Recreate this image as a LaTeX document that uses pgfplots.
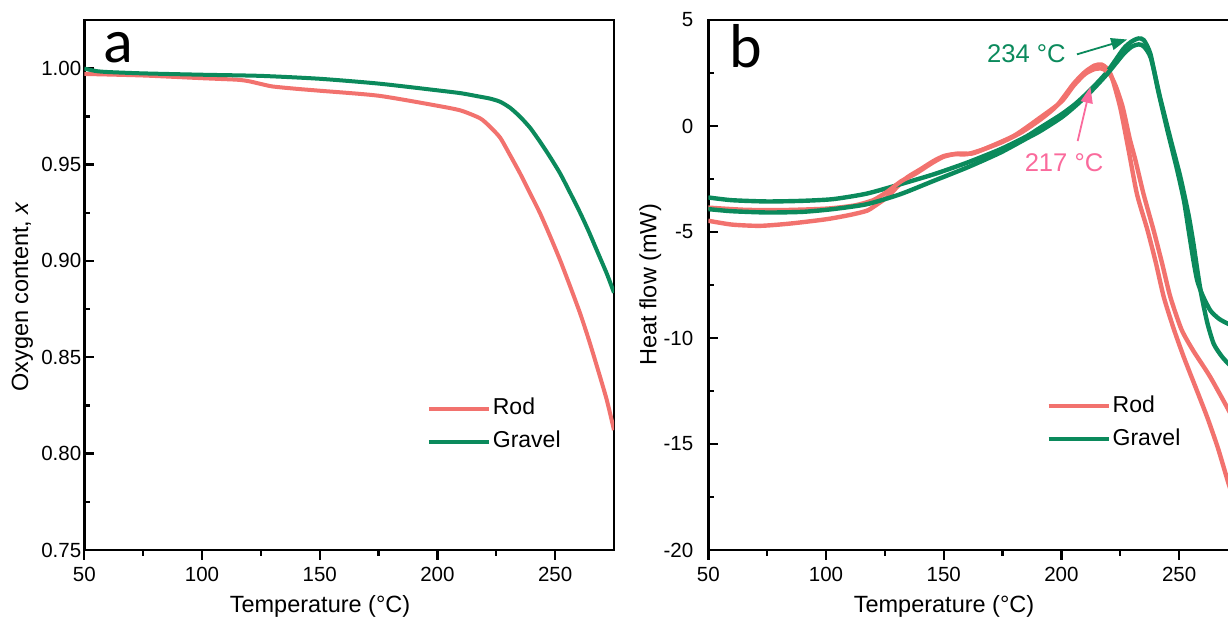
\documentclass[border=0pt]{standalone}
\usepackage{pgfplots}
\pgfplotsset{compat=1.18}
\usepackage{fontspec}
\setmainfont{Liberation Sans}
\newfontfamily\carlito{Carlito}
\usetikzlibrary{arrows.meta}
\definecolor{rodred}{HTML}{F2726E}
\definecolor{gravgreen}{HTML}{0B8A5C}
\definecolor{pinkann}{HTML}{FA6A9C}
\pgfplotsset{
  myaxis/.style={
    scale only axis, width=264.85pt, height=265pt, anchor=south west,
    xmin=50, xmax=275, xtick={50,100,150,200,250}, minor x tick num=1,
    axis line style={line width=1.4pt},
    every tick/.style={line width=1.2pt, black},
    every minor tick/.style={line width=1.2pt, black},
    major tick length=5pt, minor tick length=3pt,
    xtick pos=bottom, ytick pos=left,
    xtick align=outside, ytick align=inside,
    tick label style={font=\fontsize{10.25}{12}\selectfont},
    label style={font=\fontsize{11.75}{14}\selectfont},
    /pgf/number format/assume math mode=true,
    xlabel={Temperature (°C)},
    xlabel style={at={(axis description cs:0.445,0)}, anchor=center, yshift=-28pt},
    legend cell align=left,
    legend image code/.code={\draw[##1, line width=2pt] (0pt,0pt) -- (30pt,0pt);},
    legend style={draw=none, fill=none, inner sep=0pt, row sep=3.5pt,
      font=\fontsize{11.5}{13}\selectfont,
      nodes={inner sep=1pt, text height=8.5pt, text depth=2.5pt}},
  }
}
\begin{document}
\begin{tikzpicture}
\path[use as bounding box] (0,0) rectangle (614pt,310.5pt);
\clip (0,0) rectangle (614pt,310.5pt);
% ---------------- panel a ----------------
\begin{axis}[myaxis, at={(42.15pt,35.5pt)},
  ymin=0.75, ymax=1.025, ytick={0.75,0.80,...,1.001}, minor y tick num=1,
  yticklabel style={xshift=2pt, /pgf/number format/.cd, fixed, fixed zerofill, precision=2},
  ylabel={Oxygen content, \textit{x}},
  ylabel style={at={(axis description cs:0,0.478)}, anchor=center, yshift=31pt},
  legend style={at={(axis description cs:0.646,0.235)}, anchor=west},
]
\addplot[rodred, line width=2pt, smooth, tension=0.4] coordinates {
(50,0.997) (75,0.9962) (100,0.9948) (115,0.9940) (120,0.9932) (125,0.9918)
(130,0.9905) (140,0.9893) (150,0.9883) (175,0.9857) (200,0.9805) (210,0.9780)
(218.1,0.9740) (222,0.9700) (226.6,0.9640) (230.8,0.9550) (235.1,0.9454)
(239.4,0.9350) (243.6,0.9247) (247.8,0.9130) (252.1,0.9004) (256.3,0.8870)
(260.6,0.8728) (264.2,0.8595) (267.7,0.8455) (271.9,0.8280) (275,0.8122)};
\addlegendentry{Rod}
\addplot[gravgreen, line width=2pt, smooth, tension=0.4] coordinates {
(50,0.9998) (55,0.9985) (60,0.9980) (75,0.9973) (100,0.9966) (125,0.9960)
(150,0.9945) (175,0.9920) (200,0.9885) (210,0.9870) (218.1,0.9852)
(222.4,0.9842) (226.6,0.9826) (230.8,0.9795) (235.1,0.9748) (239.4,0.9690)
(243.6,0.9618) (247.8,0.9540) (252.1,0.9454) (256.3,0.9355) (260.6,0.9250)
(264.2,0.9155) (267.7,0.9055) (271.9,0.8935) (275,0.8835)};
\addlegendentry{Gravel}
\node[anchor=base west, inner sep=0pt, font=\carlito\fontsize{31}{31}\selectfont]
  at (axis description cs:0.036,0.919) {a};
\end{axis}
% ---------------- panel b ----------------
\begin{axis}[myaxis, at={(354.15pt,35.5pt)},
  ymin=-20, ymax=5, ytick={-20,-15,...,5}, minor y tick num=1,
  ylabel={Heat flow (mW)},
  ylabel style={at={(axis description cs:0,0.50)}, anchor=center, yshift=29pt},
  yticklabel style={xshift=-4pt},
  legend style={at={(axis description cs:0.638,0.240)}, anchor=west},
]
% Rod, run 1
\addplot[rodred, line width=2.2pt, smooth, tension=0.4] coordinates {
(50,-4.47) (60,-4.65) (72,-4.71) (85,-4.60) (100,-4.40) (110,-4.20) (117.3,-4.00)
(121,-3.75) (125.8,-3.37) (130,-2.90) (134.4,-2.43) (140,-2.05) (145.7,-1.65)
(150,-1.42) (154.2,-1.33) (159.9,-1.33) (166.9,-1.10) (175,-0.75) (183,-0.30)
(191,0.30) (198,0.95) (205.2,2.00) (210,2.55) (214,2.85) (217,2.90) (219.5,2.70)
(221.5,2.27) (225,0.86) (228.6,-1.18) (232.1,-3.22) (236.4,-4.85) (240,-6.40)
(243.5,-8.08) (247.8,-9.60) (252,-10.91) (256.9,-12.30) (261.9,-13.73) (266.5,-15.20)
(271,-16.87) (275,-18.20)};
\addlegendentry{Rod}
% Gravel, run 1
\addplot[gravgreen, line width=2.2pt, smooth, tension=0.4] coordinates {
(50,-3.37) (60,-3.50) (75,-3.56) (90,-3.53) (103,-3.45) (117.3,-3.19) (131.5,-2.75)
(145.7,-2.28) (159.9,-1.73) (174,-1.10) (185,-0.50) (191,-0.08) (200,0.55)
(206,1.05) (212.3,1.70) (219.4,2.55) (226.4,3.65) (230,4.00) (232.8,4.13)
(235,4.05) (237.8,3.40) (241,1.70) (245,-0.20) (249,-2.00) (252,-3.50)
(254,-4.90) (256,-6.30) (257.7,-7.30) (260,-8.00) (263.3,-8.71) (267,-9.10)
(271,-9.34) (275,-9.50)};
\addlegendentry{Gravel}
% Rod, run 2
\addplot[rodred, line width=2.2pt, smooth, tension=0.4, forget plot] coordinates {
(50,-3.85) (65,-3.95) (80,-3.97) (100,-3.90) (112,-3.75) (120,-3.50) (126,-3.10)
(132,-2.60) (138,-2.25) (145,-1.75) (150,-1.45) (156,-1.30) (162,-1.30)
(168,-1.05) (180,-0.45) (191,0.40) (200,1.15) (205.2,1.90) (210,2.45) (214,2.68)
(217.5,2.70) (220.5,2.45) (223,1.90) (226,0.90) (229,-0.60) (231.4,-1.60)
(234.9,-3.22) (239.2,-4.94) (242.8,-6.50) (246.3,-8.08) (251,-9.60) (256,-10.60)
(263,-11.80) (271,-13.40) (275,-14.30)};
% Gravel, run 2
\addplot[gravgreen, line width=2.2pt, smooth, tension=0.4, forget plot] coordinates {
(50,-3.92) (60,-4.02) (75,-4.08) (90,-4.05) (103,-3.92) (117.3,-3.69) (131.5,-3.22)
(145.7,-2.59) (159.9,-1.96) (174,-1.26) (185,-0.60) (191,-0.24) (200,0.40)
(206,0.95) (212.3,1.60) (219.4,2.45) (226.4,3.40) (230,3.75) (232.8,3.85)
(235,3.75) (238,3.20) (242,1.30) (246.3,-0.60) (250.5,-2.40) (254,-4.20)
(256,-5.50) (258,-7.00) (259.5,-8.00) (262,-9.30) (264.7,-10.28) (268,-10.85)
(271,-11.22) (275,-11.60)};
\node[anchor=base west, inner sep=0pt, font=\carlito\fontsize{31}{31}\selectfont]
  at (axis description cs:0.040,0.911) {b};
\node[text=gravgreen, font=\fontsize{12.8}{14}\selectfont, inner sep=0pt]
  at (axis cs:185.1,3.41) {234 °C};
\draw[gravgreen, line width=0.9pt, -{Triangle[length=8pt,width=6pt]}]
  (axis cs:206.6,3.38) -- (axis cs:227.9,4.08);
\node[text=pinkann, font=\fontsize{12.8}{14}\selectfont, inner sep=0pt]
  at (axis cs:201.1,-1.75) {217 °C};
\draw[pinkann, line width=0.9pt, -{Triangle[length=8pt,width=6pt]}]
  (axis cs:206.9,-0.71) -- (axis cs:212.3,1.84);
\end{axis}
\end{tikzpicture}
\end{document}
